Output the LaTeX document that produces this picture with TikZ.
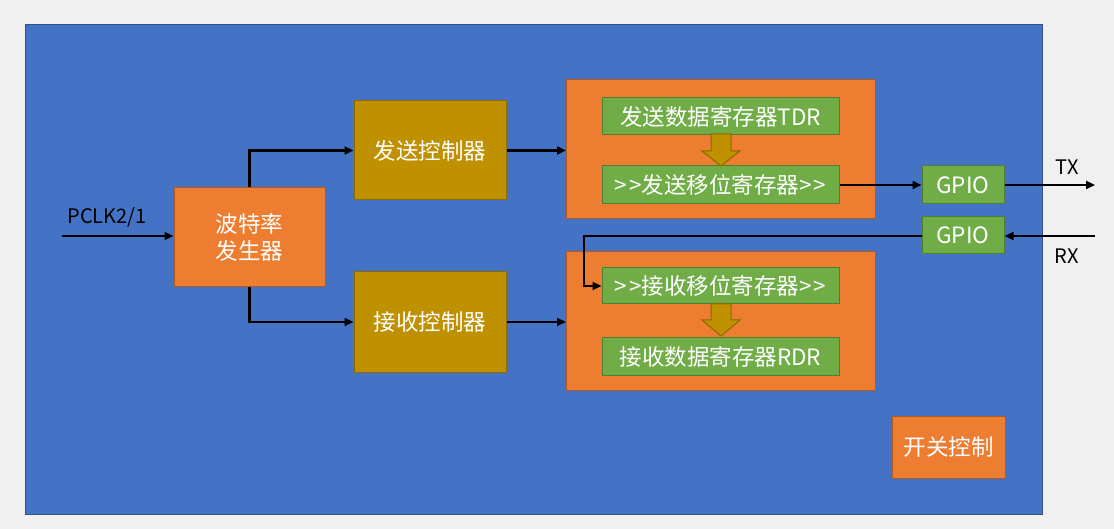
\documentclass[tikz,border=0pt]{standalone}
\usepackage{fontspec}
\setmainfont{Noto Sans CJK SC}
\usetikzlibrary{arrows.meta}
\definecolor{bgc}{HTML}{F0F0F0}
\definecolor{bluec}{HTML}{4472C4}
\definecolor{blueb}{HTML}{2F528F}
\definecolor{orc}{HTML}{ED7D31}
\definecolor{orb}{HTML}{AE5A21}
\definecolor{goldc}{HTML}{BF9000}
\definecolor{goldb}{HTML}{8C6A00}
\definecolor{grc}{HTML}{70AD47}
\definecolor{grb}{HTML}{507E32}
\newcommand{\dblgt}{>\kern2pt>}
\tikzset{
  box/.style={draw, line width=1pt, inner sep=0pt, text=white, font=\fontsize{22.5}{27}\selectfont, align=center},
  orbox/.style={box, fill=orc, draw=orb},
  goldbox/.style={box, fill=goldc, draw=goldb},
  grbox/.style={box, fill=grc, draw=grb},
  conn/.style={line width=2.8pt, -{Triangle[length=9pt,width=8pt]}},
  lbl/.style={text=black, font=\fontsize{20}{24}\selectfont, inner sep=0pt},
  blockarrow/.style={fill=goldc, draw=goldb, line width=1pt}
}
\begin{document}
\begin{tikzpicture}[x=1pt,y=-1pt]
\useasboundingbox (0,0) rectangle (1114,529);
\fill[bgc] (0,0) rectangle (1114,529);
\draw[fill=bluec, draw=blueb, line width=1pt] (25,25) rectangle (1042,514);
% containers
\draw[fill=orc, draw=orb, line width=1pt] (566,80) rectangle (875,219);
\draw[fill=orc, draw=orb, line width=1pt] (566,252) rectangle (875,390);
% nodes
\node[orbox, minimum width=151pt, minimum height=99pt] (baud) at (249.5,237.5) {波特率\\发生器};
\node[goldbox, minimum width=152pt, minimum height=99pt] (txc) at (430,150.5) {发送控制器};
\node[goldbox, minimum width=152pt, minimum height=100pt] (rxc) at (430,322) {接收控制器};
\node[grbox, minimum width=237pt, minimum height=37pt] (tdr) at (720.5,116.5) {发送数据寄存器TDR};
\node[grbox, minimum width=237pt, minimum height=38pt] (tsr) at (720.5,185) {\dblgt 发送移位寄存器\dblgt};
\node[grbox, minimum width=237pt, minimum height=36pt] (rsr) at (720.5,286) {\dblgt 接收移位寄存器\dblgt};
\node[grbox, minimum width=237pt, minimum height=37pt] (rdr) at (720.5,356.5) {接收数据寄存器RDR};
\node[grbox, minimum width=82pt, minimum height=38pt] (gpio1) at (963,185) {GPIO};
\node[grbox, minimum width=82pt, minimum height=37pt] (gpio2) at (963,235.5) {GPIO};
\node[orbox, minimum width=113pt, minimum height=62pt] (sw) at (948.5,447) {开关控制};
% block arrows
\draw[blockarrow] (711,134) -- (731,134) -- (731,151) -- (740,151) -- (721,166) -- (702,151) -- (711,151) -- cycle;
\draw[blockarrow] (711,304) -- (731,304) -- (731,320) -- (740,320) -- (721,336) -- (702,320) -- (711,320) -- cycle;
% coordinates
\coordinate (pin) at (62,236);
\coordinate (txo) at (1095,185);
\coordinate (rxi) at (1095,236);
% connectors
\draw[conn] (pin) -- (baud.west |- pin);
\node[lbl] (pclk) at (107,217) {PCLK2/1};
\draw[conn] (baud.north) |- (txc.west);
\draw[conn] (baud.south) |- (rxc.west);
\draw[conn] (txc.east) -- (566,150.5);
\draw[conn] (rxc.east) -- (566,322);
\draw[conn] (tsr.east) -- (gpio1.west);
\draw[conn] (gpio1.east) -- (txo);
\node[lbl] (tx) at (1067,167) {TX};
\draw[conn] (rxi) -- (gpio2.east |- rxi);
\node[lbl] (rx) at (1067,256) {RX};
\draw[conn] (gpio2.west |- rxi) -- (584,236) |- (rsr.west);
\end{tikzpicture}
\end{document}
